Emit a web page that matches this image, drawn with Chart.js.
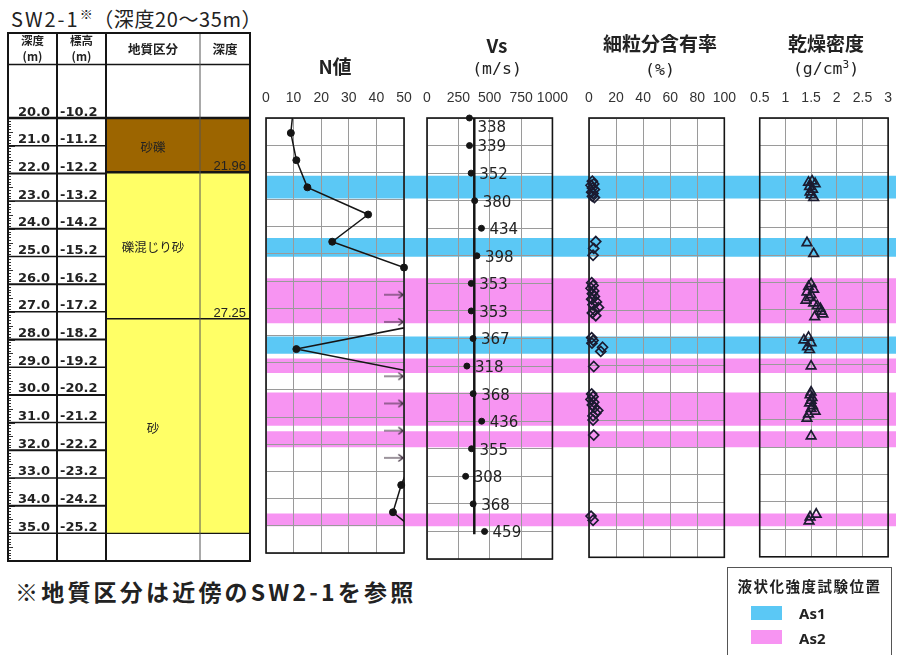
<!DOCTYPE html>
<html lang="ja">
<head>
<meta charset="utf-8">
<title>SW2-1 深度20～35m</title>
<script src="https://cdn.jsdelivr.net/npm/chart.js@4.4.1/dist/chart.umd.min.js"></script>
<style>
  body { margin: 0; width: 903px; height: 655px; overflow: hidden; background: #fff;
         font-family: "Noto Sans CJK JP", "Noto Sans", sans-serif; color: #222; position: relative; }
  .box { position: absolute; }
  .title { position: absolute; left: 11px; top: 6px; font-size: 20px; line-height: 26px; white-space: nowrap; letter-spacing: 0.6px; }
  .title .sw { letter-spacing: 2px; }
  .title sup { font-size: 13px; vertical-align: 8px; line-height: 0; }
  .ptitle { position: absolute; text-align: center; font-weight: bold; font-size: 19px; line-height: 24px; white-space: nowrap; }
  .punit { position: absolute; text-align: center; font-family: "DejaVu Sans Mono", monospace; font-size: 16.5px; line-height: 22px; white-space: nowrap; }
  .footer { position: absolute; left: 15px; top: 576px; font-weight: bold; font-size: 23px; line-height: 30px; white-space: nowrap; letter-spacing: 3.2px; }
  .legend { position: absolute; left: 727px; top: 567px; width: 165px; height: 100px; border: 1px solid #555; box-sizing: border-box; }
  .legend .lt { position: absolute; left: 0; width: 100%; top: 8px; text-align: center; font-weight: bold; font-size: 14.5px; line-height: 20px; letter-spacing: 1.5px; }
  .legend .sw { position: absolute; left: 23px; width: 31px; height: 14px; }
  .legend .lb { position: absolute; left: 71px; font-weight: bold; font-size: 15px; line-height: 18px; font-family: "Noto Sans", sans-serif; }
</style>
</head>
<body>
<div class="title"><span class="sw">SW2-1</span><sup>※</sup>（深度20～35m）</div>

<div class="box" id="tableBox" style="left:0;top:30px;width:262px;height:540px"><canvas id="tableChart"></canvas></div>
<div class="box" id="bandBox" style="left:266px;top:118px;width:630px;height:443px"><canvas id="bandChart"></canvas></div>
<div class="box" style="left:246px;top:78px;width:178px;height:486px"><canvas id="nChart"></canvas></div>
<div class="box" style="left:407px;top:78px;width:172px;height:486px"><canvas id="vsChart"></canvas></div>
<div class="box" style="left:569px;top:78px;width:178px;height:486px"><canvas id="fcChart"></canvas></div>
<div class="box" style="left:739px;top:78px;width:164px;height:486px"><canvas id="rhoChart"></canvas></div>

<div class="ptitle" style="left:266px;width:138px;top:54px">N値</div>
<div class="ptitle" style="left:427px;width:140px;top:33px">Vs</div>
<div class="punit" style="left:427px;width:140px;top:58px">(m/s)</div>
<div class="ptitle" style="left:589px;width:142px;top:31px">細粒分含有率</div>
<div class="punit" style="left:589px;width:142px;top:59px">(%)</div>
<div class="ptitle" style="left:755px;width:142px;top:31px">乾燥密度</div>
<div class="punit" style="left:755px;width:142px;top:58px">(g/cm<sup style="font-size:11px;line-height:0">3</sup>)</div>

<div class="footer">※地質区分は近傍のSW2-1を参照</div>

<div class="legend">
  <div class="lt">液状化強度試験位置</div>
  <div class="sw" style="top:38px;background:#5bc8f5"></div>
  <div class="lb" style="top:36px">As1</div>
  <div class="sw" style="top:62px;background:#f794f2"></div>
  <div class="lb" style="top:61px">As2</div>
</div>

<script>
// ---------- data ----------
// boring table
const depthRows = [20, 21, 22, 23, 24, 25, 26, 27, 28, 29, 30, 31, 32, 33, 34, 35];
const depthLabels = ['20.0', '21.0', '22.0', '23.0', '24.0', '25.0', '26.0', '27.0',
                     '28.0', '29.0', '30.0', '31.0', '32.0', '33.0', '34.0', '35.0'];
const elevLabels = ['-10.2', '-11.2', '-12.2', '-13.2', '-14.2', '-15.2', '-16.2', '-17.2',
                    '-18.2', '-19.2', '-20.2', '-21.2', '-22.2', '-23.2', '-24.2', '-25.2'];
const geoNames = ['砂礫', '礫混じり砂', '砂'];
const geoTop = [20, 21.96, 27.25];
const geoBottom = [21.96, 27.25, 35];
const geoBottomLabels = ['21.96', '27.25', ''];

// N value (values over 50 run off the axis)
const nDepth = [19.55, 20.55, 21.55, 22.55, 23.55, 24.55, 25.5, 26.5, 27.5, 28.5, 29.5, 30.5, 31.5, 32.5, 33.5, 34.5, 35.5];
const nValue = [10, 9, 11, 15, 37, 24, 50, 60, 61, 11, 61, 60, 60, 53, 49, 46, 58];
const nOverDepth = [26.5, 27.5, 29.5, 30.5, 31.5, 32.5];

// Vs
const vsDepth = [20, 21, 22, 23, 24, 25, 26, 27, 28, 29, 30, 31, 32, 33, 34, 35];
const vsValue = [338, 339, 352, 380, 434, 398, 353, 353, 367, 318, 368, 436, 355, 308, 368, 459];
const vsLineValue = 377;
const vsLineDepth = [20, 35.1];

// fines content (%)
const fcDepth = [22.3, 22.4, 22.45, 22.55, 22.6, 22.7, 22.75, 22.85, 22.9,
                 24.5, 24.75, 25.0,
                 26.0, 26.1, 26.2, 26.3, 26.4, 26.5, 26.6, 26.7, 26.8, 26.9, 27.0, 27.1, 27.2,
                 28.0, 28.1, 28.2, 28.35, 28.5,
                 29.05,
                 30.05, 30.15, 30.25, 30.35, 30.45, 30.55, 30.65, 30.75, 30.85, 31.0,
                 31.55,
                 34.5, 34.65];
const fcValue = [2.5, 3.5, 1.5, 2.5, 4, 2, 3, 2.5, 4,
                 5, 3.5, 3,
                 2, 3, 1.5, 3.5, 2.5, 4, 2, 5.5, 3, 7, 4, 2.5, 5,
                 2, 3, 2.2, 10, 8.7,
                 3.5,
                 2, 3, 1.5, 3.5, 2.5, 4, 6.5, 5, 3, 3,
                 3.5,
                 1.5, 3];

// dry density (g/cm3)
const rhoDepth = [22.3, 22.35, 22.4, 22.5, 22.6, 22.7, 22.8, 22.9,
                  24.55, 24.95,
                  26.05, 26.15, 26.25, 26.35, 26.45, 26.55, 26.65, 26.75, 26.85, 26.95, 27.05, 27.15, 27.25,
                  28.0, 28.1, 28.2, 28.35, 28.45,
                  29.05,
                  30.0, 30.1, 30.2, 30.3, 30.4, 30.5, 30.6, 30.7, 30.8, 30.95,
                  31.6,
                  34.45, 34.55, 34.7];
const rhoValue = [1.52, 1.45, 1.58, 1.47, 1.53, 1.48, 1.5, 1.55,
                  1.42, 1.55,
                  1.5, 1.45, 1.55, 1.42, 1.5, 1.47, 1.4, 1.55, 1.62, 1.68, 1.7, 1.73, 1.57,
                  1.45, 1.36, 1.5, 1.43, 1.47,
                  1.5,
                  1.5, 1.48, 1.52, 1.5, 1.47, 1.53, 1.5, 1.58, 1.45, 1.42,
                  1.5,
                  1.6, 1.48, 1.46];

// liquefaction test ranges
const as1Top = [22.1, 24.35, 27.9];
const as1Bottom = [22.9, 25.0, 28.5];
const as2Top = [25.8, 28.7, 29.93, 31.33, 34.3];
const as2Bottom = [27.4, 29.2, 31.1, 31.88, 34.73];

// tick labels
const nTicks = ['0', '10', '20', '30', '40', '50'];
const vsTicks = ['0', '250', '500', '750', '1000'];
const fcTicks = ['0', '20', '40', '60', '80', '100'];
const rhoTicks = ['0.5', '1', '1.5', '2', '2.5', '3'];

// ---------- styles ----------
const AS1_COLOR = '#5bc8f5';
const AS2_COLOR = '#f794f2';
const GEO_COLORS = ['#9c6500', '#ffff66', '#ffff66'];
const GRID = '#9a9a9a';
const INK = '#151515';
const colEdges = [0, 49, 98, 192, 242];   // table columns, px from table left
const HEADER_BOTTOM = 18.07;               // depth where the header row ends
const ARROW_N = 46.5;                       // where the "over 50" arrows sit

Chart.defaults.font.family = '"Liberation Sans", sans-serif';
Chart.defaults.animation = false;

// ---------- boring table ----------
const tablePlugin = {
  id: 'boringTable',
  afterDraw(chart) {
    const { ctx, scales: { x, y }, chartArea: a } = chart;
    const X = v => x.getPixelForValue(v);
    const Y = v => y.getPixelForValue(v);
    ctx.save();

    // geology fills
    geoTop.forEach((t, i) => {
      ctx.fillStyle = GEO_COLORS[i];
      ctx.fillRect(X(colEdges[2]), Y(t), X(colEdges[4]) - X(colEdges[2]), Y(geoBottom[i]) - Y(t));
    });

    // ruler ticks on the left edge
    ctx.strokeStyle = '#333';
    ctx.lineWidth = 1;
    for (let k = 0; k <= 160; k++) {
      const yy = Math.round(Y(20 + k / 10)) + 0.5;
      const len = k % 10 === 0 ? 7 : (k % 5 === 0 ? 5 : 3);
      ctx.beginPath(); ctx.moveTo(a.left, yy); ctx.lineTo(a.left + len, yy); ctx.stroke();
    }

    const hline = (x0, x1, d, w, c) => {
      ctx.strokeStyle = c || INK; ctx.lineWidth = w;
      ctx.beginPath(); ctx.moveTo(X(x0), Y(d)); ctx.lineTo(X(x1), Y(d)); ctx.stroke();
    };
    const vline = (xv, d0, d1, w, c) => {
      ctx.strokeStyle = c || INK; ctx.lineWidth = w;
      ctx.beginPath(); ctx.moveTo(X(xv), Y(d0)); ctx.lineTo(X(xv), Y(d1)); ctx.stroke();
    };

    // rows in depth / elevation columns
    depthRows.forEach((d, i) => {
      if (i > 0) hline(colEdges[0], colEdges[2], d, (i % 2 === 1) ? 1.4 : 2);
    });
    // geology boundaries
    geoBottom.forEach((d, i) => hline(colEdges[2], colEdges[4], d, i === 0 ? 2.5 : 1.3));
    hline(colEdges[0], colEdges[4], HEADER_BOTTOM, 1.6);
    hline(colEdges[0], colEdges[4], 20, 2.5);

    // columns
    const top = y.min, bot = y.max;
    vline(colEdges[1], top, bot, 2);
    vline(colEdges[2], top, bot, 2);
    vline(colEdges[3], top, bot, 1, '#555');
    ctx.strokeStyle = INK; ctx.lineWidth = 2;
    ctx.strokeRect(a.left, a.top, a.width, a.height);

    // header
    ctx.fillStyle = '#222';
    ctx.textAlign = 'center';
    ctx.textBaseline = 'middle';
    const hTop = Y(top);
    ctx.font = 'bold 11.5px "Noto Sans CJK JP"';
    ctx.fillText('深度', X(24.5), hTop + 8);
    ctx.fillText('(m)', X(24.5), hTop + 24);
    ctx.fillText('標高', X(73.5), hTop + 8);
    ctx.fillText('(m)', X(73.5), hTop + 24);
    ctx.font = 'bold 12.5px "Noto Sans CJK JP"';
    ctx.fillText('地質区分', X(145), hTop + 16);
    ctx.fillText('深度', X(217), hTop + 16);

    // depth / elevation labels
    ctx.textAlign = 'left';
    ctx.textBaseline = 'alphabetic';
    ctx.font = 'bold 13px "DejaVu Sans"';
    depthRows.forEach((d, i) => {
      ctx.fillText(depthLabels[i], X(10), Y(d) - 2.5);
      ctx.fillText(elevLabels[i], X(52), Y(d) - 2.5);
    });

    // geology names and bottom depths
    ctx.textAlign = 'center';
    ctx.textBaseline = 'middle';
    ctx.font = '12.5px "Noto Sans CJK JP"';
    geoNames.forEach((n, i) => {
      ctx.fillText(n, X(145), (Y(geoTop[i]) + Y(geoBottom[i])) / 2 + 2);
    });
    ctx.textAlign = 'right';
    ctx.textBaseline = 'alphabetic';
    ctx.font = '13px "Liberation Sans"';
    geoBottomLabels.forEach((t, i) => {
      if (t) ctx.fillText(t, X(colEdges[4] - 4), Y(geoBottom[i]) - 2);
    });
    ctx.restore();
  }
};

new Chart(document.getElementById('tableChart'), {
  type: 'scatter',
  data: { datasets: [] },
  options: {
    responsive: true, maintainAspectRatio: false,
    layout: { padding: { left: 8, right: 12, top: 3, bottom: 9 } },
    plugins: { legend: { display: false }, tooltip: { enabled: false } },
    scales: {
      x: { type: 'linear', display: false, min: 0, max: 242 },
      y: { type: 'linear', display: false, min: 16.93, max: 36, reverse: true }
    }
  },
  plugins: [tablePlugin]
});

// ---------- liquefaction test bands (behind the panels) ----------
const bandDatasets = [
  ...as1Top.map((t, i) => ({ label: 'As1', data: [[t, as1Bottom[i]]], backgroundColor: AS1_COLOR })),
  ...as2Top.map((t, i) => ({ label: 'As2', data: [[t, as2Bottom[i]]], backgroundColor: AS2_COLOR }))
];

new Chart(document.getElementById('bandChart'), {
  type: 'bar',
  data: { labels: ['band'], datasets: bandDatasets },
  options: {
    responsive: true, maintainAspectRatio: false,
    grouped: false,
    barPercentage: 1, categoryPercentage: 1,
    borderWidth: 0,
    layout: { padding: 0 },
    plugins: { legend: { display: false }, tooltip: { enabled: false } },
    scales: {
      x: { display: false, offset: true },
      y: { display: false, min: 20, max: 36, reverse: true }
    }
  }
});

// ---------- panels ----------
const framePlugin = {
  id: 'frame',
  beforeDatasetsDraw(chart) {
    const { ctx, chartArea: a } = chart;
    ctx.save();
    ctx.strokeStyle = INK;
    ctx.lineWidth = 1.6;
    ctx.strokeRect(a.left, a.top, a.width, a.height);
    ctx.restore();
  }
};

function panel(id, xMin, xMax, step, tickLabels, datasets, padRight, extra) {
  return new Chart(document.getElementById(id), {
    type: 'scatter',
    data: { datasets },
    options: {
      responsive: true, maintainAspectRatio: false,
      layout: { padding: { left: 20, right: padRight, top: 0, bottom: 3 } },
      plugins: { legend: { display: false }, tooltip: { enabled: false } },
      scales: {
        x: {
          type: 'linear', position: 'top', min: xMin, max: xMax,
          ticks: {
            stepSize: step, padding: 11, color: '#333', maxRotation: 0, autoSkip: false,
            font: { size: 14 },
            callback: (v, i) => tickLabels[i]
          },
          grid: { color: GRID, drawTicks: false, lineWidth: 1 },
          border: { display: false },
          afterFit: s => { s.height = 40; }
        },
        y: {
          type: 'linear', min: 20, max: 36, reverse: true,
          ticks: { stepSize: 1, display: false },
          grid: { color: GRID, drawTicks: false, lineWidth: 1 },
          border: { display: false },
          afterFit: s => { s.width = 0; }
        }
      }
    },
    plugins: [framePlugin].concat(extra || [])
  });
}

// N value
function arrowImage() {
  const c = document.createElement('canvas');
  c.width = 20; c.height = 10;
  const g = c.getContext('2d');
  g.strokeStyle = '#3b2b3b';
  g.lineWidth = 1.2;
  g.beginPath();
  g.moveTo(0, 5); g.lineTo(19, 5);
  g.moveTo(14, 1.5); g.lineTo(19, 5); g.lineTo(14, 8.5);
  g.stroke();
  return c;
}
const nPoints = nDepth.map((d, i) => ({ x: nValue[i], y: d }));
panel('nChart', 0, 50, 10, nTicks, [
  { data: nPoints, showLine: true, borderColor: INK, borderWidth: 1.5, pointRadius: 0, clip: 0 },
  { data: nPoints.filter(p => p.x <= 50 && p.y >= 20), showLine: false, pointRadius: 3.5,
    backgroundColor: INK, borderColor: INK, clip: false },
  { data: nOverDepth.map(d => ({ x: ARROW_N, y: d })), showLine: false,
    pointStyle: arrowImage(), pointRadius: 10, clip: false }
], 20);

// Vs
const vsLabelPlugin = {
  id: 'vsLabels',
  afterDatasetsDraw(chart) {
    const { ctx, chartArea: a } = chart;
    const meta = chart.getDatasetMeta(1);
    ctx.save();
    ctx.font = '15px "DejaVu Sans"';
    ctx.fillStyle = '#222';
    ctx.textAlign = 'left';
    ctx.textBaseline = 'middle';
    meta.data.forEach((pt, i) => {
      ctx.fillText(String(vsValue[i]), pt.x + 8, Math.max(pt.y + 2, a.top + 10));
    });
    ctx.restore();
  }
};
panel('vsChart', 0, 1000, 250, vsTicks, [
  { data: vsLineDepth.map(d => ({ x: vsLineValue, y: d })), showLine: true,
    borderColor: INK, borderWidth: 2.5, pointRadius: 0 },
  { data: vsDepth.map((d, i) => ({ x: vsValue[i], y: d })), showLine: false, pointRadius: 3,
    backgroundColor: INK, borderColor: INK, clip: false }
], 20, [vsLabelPlugin]);

// fines content
panel('fcChart', 0, 100, 20, fcTicks, [
  { data: fcDepth.map((d, i) => ({ x: fcValue[i], y: d })), showLine: false,
    pointStyle: 'rectRot', pointRadius: 5, borderWidth: 1.7,
    borderColor: '#1b1b30', backgroundColor: 'rgba(0,0,0,0)', clip: false }
], 20);

// dry density
panel('rhoChart', 0.5, 3, 0.5, rhoTicks, [
  { data: rhoDepth.map((d, i) => ({ x: rhoValue[i], y: d })), showLine: false,
    pointStyle: 'triangle', pointRadius: 5.5, borderWidth: 1.7,
    borderColor: '#1b1b30', backgroundColor: 'rgba(0,0,0,0)', clip: false }
], 7);
</script>
</body>
</html>
